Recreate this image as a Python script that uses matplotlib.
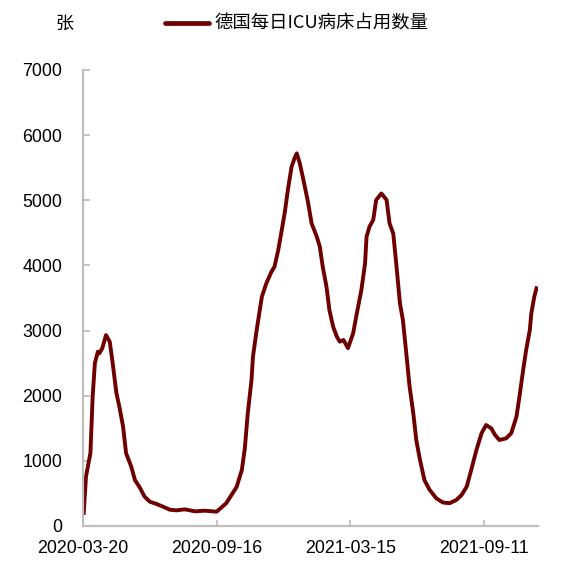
import matplotlib
matplotlib.use("Agg")
import matplotlib.pyplot as plt
import pandas as pd

# ---- data ----
start_date = "2020-03-20"
day_offsets = [1, 4, 10, 13, 16, 20, 22, 26, 31, 36, 40, 45, 49, 54, 58, 65, 70, 76, 83, 90,
               99, 108, 117, 126, 137, 151, 164, 180, 193, 207, 214, 218, 222, 227, 229, 234,
               241, 247, 254, 258, 263, 267, 272, 276, 281, 285, 288, 292, 297, 303, 308, 315,
               319, 323, 328, 332, 337, 342, 346, 351, 357, 364, 368, 375, 380, 382, 386, 391,
               395, 402, 409, 413, 418, 422, 427, 431, 436, 440, 445, 449, 454, 460, 467, 476,
               485, 494, 503, 510, 517, 523, 530, 537, 543, 550, 555, 561, 570, 577, 584, 588,
               593, 597, 602, 604, 608, 611]
icu_beds = [200, 757, 1120, 1985, 2500, 2675, 2650, 2730, 2930, 2830, 2500, 2040, 1830, 1525,
            1120, 910, 705, 600, 450, 373, 338, 296, 250, 240, 256, 225, 235, 220, 350, 600,
            860, 1190, 1730, 2240, 2600, 3010, 3520, 3725, 3905, 3980, 4235, 4490, 4825, 5160,
            5515, 5645, 5720, 5570, 5310, 4980, 4645, 4440, 4290, 3980, 3675, 3315, 3060, 2905,
            2830, 2855, 2730, 2960, 3210, 3620, 4030, 4440, 4595, 4700, 5005, 5105, 5005, 4645,
            4490, 4030, 3420, 3160, 2600, 2140, 1730, 1320, 1015, 705, 555, 425, 360, 350, 400,
            475, 605, 860, 1165, 1425, 1550, 1500, 1400, 1320, 1345, 1425, 1680, 1985, 2395,
            2700, 3010, 3265, 3520, 3650]
x_tick_labels = ["2020-03-20", "2020-09-16", "2021-03-15", "2021-09-11"]
x_end = "2021-11-23"
y_ticks = [0, 1000, 2000, 3000, 4000, 5000, 6000, 7000]
series_name = "德国每日ICU病床占用数量"
unit_label = "张"

dates = pd.Timestamp(start_date) + pd.to_timedelta(day_offsets, unit="D")

plt.rcParams['font.family'] = ['Liberation Sans', 'Noto Sans CJK SC', 'DejaVu Sans']

fig = plt.figure(figsize=(5.61, 5.73), dpi=100)
ax = fig.add_axes([83 / 561, 1 - 526 / 573, (538 - 83) / 561, (526 - 70) / 573])

line_color = "#6E0000"
ax.plot(dates, icu_beds, color=line_color, lw=2.8, solid_joinstyle="round",
        label=series_name)

ax.set_xlim(pd.Timestamp(start_date), pd.Timestamp(x_end))
ax.set_ylim(0, 7000)
ax.set_yticks(y_ticks)
ax.set_yticklabels([str(v) for v in y_ticks])
ax.set_xticks(pd.to_datetime(x_tick_labels))
ax.set_xticklabels(x_tick_labels)

grey = "#BFBFBF"
for s in ["top", "right"]:
    ax.spines[s].set_visible(False)
for s in ["left", "bottom"]:
    ax.spines[s].set_color(grey)
    ax.spines[s].set_linewidth(1.6)

ax.tick_params(axis="y", direction="in", length=5, width=1.3, color=grey,
               labelsize=12.8, pad=15, labelcolor="black")
ax.tick_params(axis="x", direction="in", length=4, width=1.3, color=grey,
               labelsize=12.8, pad=10, labelcolor="black")

leg = ax.legend(loc="center left", bbox_to_anchor=(165 / 561, 1 - 24 / 573),
                bbox_transform=fig.transFigure, frameon=False,
                handlelength=2.4, handletextpad=0.3, borderpad=0, borderaxespad=0,
                prop={'family': ['Noto Sans CJK SC', 'DejaVu Sans'], 'size': 13.2})
for h in leg.get_lines():
    h.set_linewidth(3.4)
    h.set_solid_capstyle("round")

fig.text(64 / 561, 1 - 24 / 573, unit_label, ha="center", va="center",
         fontsize=13, family=['Noto Sans CJK SC', 'DejaVu Sans'])

fig.savefig("out.png", dpi=100)
